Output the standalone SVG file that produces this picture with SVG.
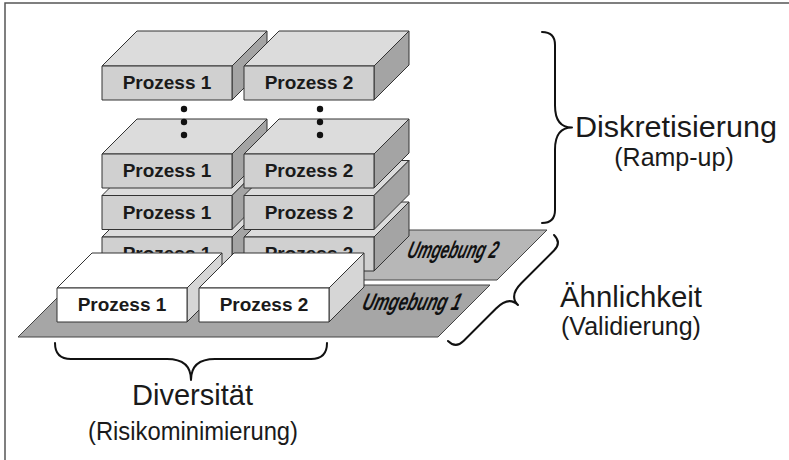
<svg xmlns="http://www.w3.org/2000/svg" xmlns:xlink="http://www.w3.org/1999/xlink" width="789" height="460" viewBox="0 0 789 460">
  <style>
    .edge { stroke: #333; stroke-width: 1; stroke-linejoin: round; }
    .gtop { fill: #dcdcdc; }
    .gfront { fill: #d0d0d0; }
    .gside { fill: #a4a4a4; }
    .wtop { fill: #ffffff; }
    .wfront { fill: #ffffff; }
    .wside { fill: #d6d6d6; }
    .plate1 { fill: #a6a6a6; stroke: #444; stroke-width: 1; }
    .plate2 { fill: #b7b7b7; stroke: #444; stroke-width: 1; }
    .box-label { font-family: "Liberation Sans", Arial, sans-serif; font-weight: bold; font-size: 19px; fill: #1a1a1a; text-anchor: middle; }
    .env-label { font-family: "Liberation Sans", Arial, sans-serif; font-weight: bold; font-style: italic; font-size: 24px; fill: #111; }
    .big { font-family: "Liberation Sans", Arial, sans-serif; font-size: 30px; fill: #1a1a1a; }
    .sub { font-family: "Liberation Sans", Arial, sans-serif; font-size: 25px; fill: #1a1a1a; }
    .brace { fill: none; stroke: #111; stroke-width: 2; stroke-linecap: round; stroke-linejoin: round; }
    .frame { stroke: #555; stroke-width: 1.5; fill: none; }
  </style>
  <defs>
    <!-- process block: front face at origin, 130 x 34, depth 35 -->
    <g id="gbox">
      <polygon class="gtop edge" points="0,0 35,-35 165,-35 130,0"/>
      <polygon class="gside edge" points="130,0 165,-35 165,-1 130,34"/>
      <rect class="gfront edge" x="0" y="0" width="130" height="34"/>
    </g>
    <g id="wbox">
      <polygon class="wtop edge" points="0,0 35,-35 165,-35 130,0"/>
      <polygon class="wside edge" points="130,0 165,-35 165,-1 130,34"/>
      <rect class="wfront edge" x="0" y="0" width="130" height="34"/>
    </g>
  </defs>

  <!-- frame -->
  <path class="frame" d="M 5,460 L 5,3 L 789,3"/>

  <!-- environment plates -->
  <g id="umgebung2">
    <polygon class="plate2" points="80,280 497,280 547,230 130,230"/>
  </g>

  <!-- left column of process blocks -->
  <g id="p1-level3">
    <use xlink:href="#gbox" x="102" y="237"/>
    <text class="box-label" x="167" y="260">Prozess 1</text>
  </g>
  <g id="p1-level2">
    <use xlink:href="#gbox" x="102" y="195.5"/>
    <text class="box-label" x="167" y="218.5">Prozess 1</text>
  </g>
  <g id="p1-level1">
    <use xlink:href="#gbox" x="102" y="154"/>
    <text class="box-label" x="167" y="177">Prozess 1</text>
  </g>
  <g id="p1-top">
    <use xlink:href="#gbox" x="102" y="66"/>
    <text class="box-label" x="167" y="89">Prozess 1</text>
  </g>

  <!-- right column of process blocks -->
  <g id="p2-level3">
    <use xlink:href="#gbox" x="244" y="237"/>
    <text class="box-label" x="309" y="260">Prozess 2</text>
  </g>
  <g id="p2-level2">
    <use xlink:href="#gbox" x="244" y="195.5"/>
    <text class="box-label" x="309" y="218.5">Prozess 2</text>
  </g>
  <g id="p2-level1">
    <use xlink:href="#gbox" x="244" y="154"/>
    <text class="box-label" x="309" y="177">Prozess 2</text>
  </g>
  <g id="p2-top">
    <use xlink:href="#gbox" x="244" y="66"/>
    <text class="box-label" x="309" y="89">Prozess 2</text>
  </g>

  <!-- ellipsis dots between the stacks -->
  <g id="dots" fill="#111">
    <circle cx="184" cy="109" r="3.2"/>
    <circle cx="184" cy="122" r="3.2"/>
    <circle cx="184" cy="135" r="3.2"/>
    <circle cx="320" cy="109" r="3.2"/>
    <circle cx="320" cy="122" r="3.2"/>
    <circle cx="320" cy="135" r="3.2"/>
  </g>

  <g id="umgebung1">
    <polygon class="plate1" points="18,337 438,337 490,285 70,285"/>
  </g>

  <!-- front process blocks -->
  <g id="w-p1">
    <use xlink:href="#wbox" x="57" y="288"/>
    <text class="box-label" x="122" y="311">Prozess 1</text>
  </g>
  <g id="w-p2">
    <use xlink:href="#wbox" x="199" y="288"/>
    <text class="box-label" x="264" y="311">Prozess 2</text>
  </g>

  <!-- environment labels (slanted) -->
  <text class="env-label" x="0" y="0" textLength="90" lengthAdjust="spacingAndGlyphs" transform="translate(406,258) skewX(-16)">Umgebung 2</text>
  <text class="env-label" x="0" y="0" textLength="98" lengthAdjust="spacingAndGlyphs" transform="translate(361,310) skewX(-16)">Umgebung 1</text>

  <!-- braces -->
  <g id="connectors">
    <path class="brace" d="M -95.5,0 Q -95.5,13 -82.5,13 L -22,13 Q 0,13 0,30 Q 0,13 22,13 L 82.5,13 Q 95.5,13 95.5,0" transform="translate(542,127.5) rotate(-90)"/>
    <path class="brace" d="M -75,0 Q -75,11 -64,11 L -18,11 Q 0,11 0,24 Q 0,11 18,11 L 64,11 Q 75,11 75,0" transform="translate(501,288) rotate(-45)"/>
    <path class="brace" d="M -136,0 Q -136,16 -120,16 L -24,16 Q 0,16 0,37 Q 0,16 24,16 L 120,16 Q 136,16 136,0" transform="translate(191,343)"/>
  </g>

  <!-- dimension labels -->
  <g id="label-diskretisierung">
    <text class="big" x="575" y="137" textLength="202" lengthAdjust="spacingAndGlyphs">Diskretisierung</text>
    <text class="sub" x="674" y="166" text-anchor="middle">(Ramp-up)</text>
  </g>
  <g id="label-aehnlichkeit">
    <text class="big" x="560" y="307" textLength="142" lengthAdjust="spacingAndGlyphs">Ähnlichkeit</text>
    <text class="sub" x="631" y="335" text-anchor="middle">(Validierung)</text>
  </g>
  <g id="label-diversitaet">
    <text class="big" x="132" y="405" textLength="121" lengthAdjust="spacingAndGlyphs">Diversität</text>
    <text class="sub" x="193" y="440" text-anchor="middle" textLength="210" lengthAdjust="spacingAndGlyphs">(Risikominimierung)</text>
  </g>
</svg>
